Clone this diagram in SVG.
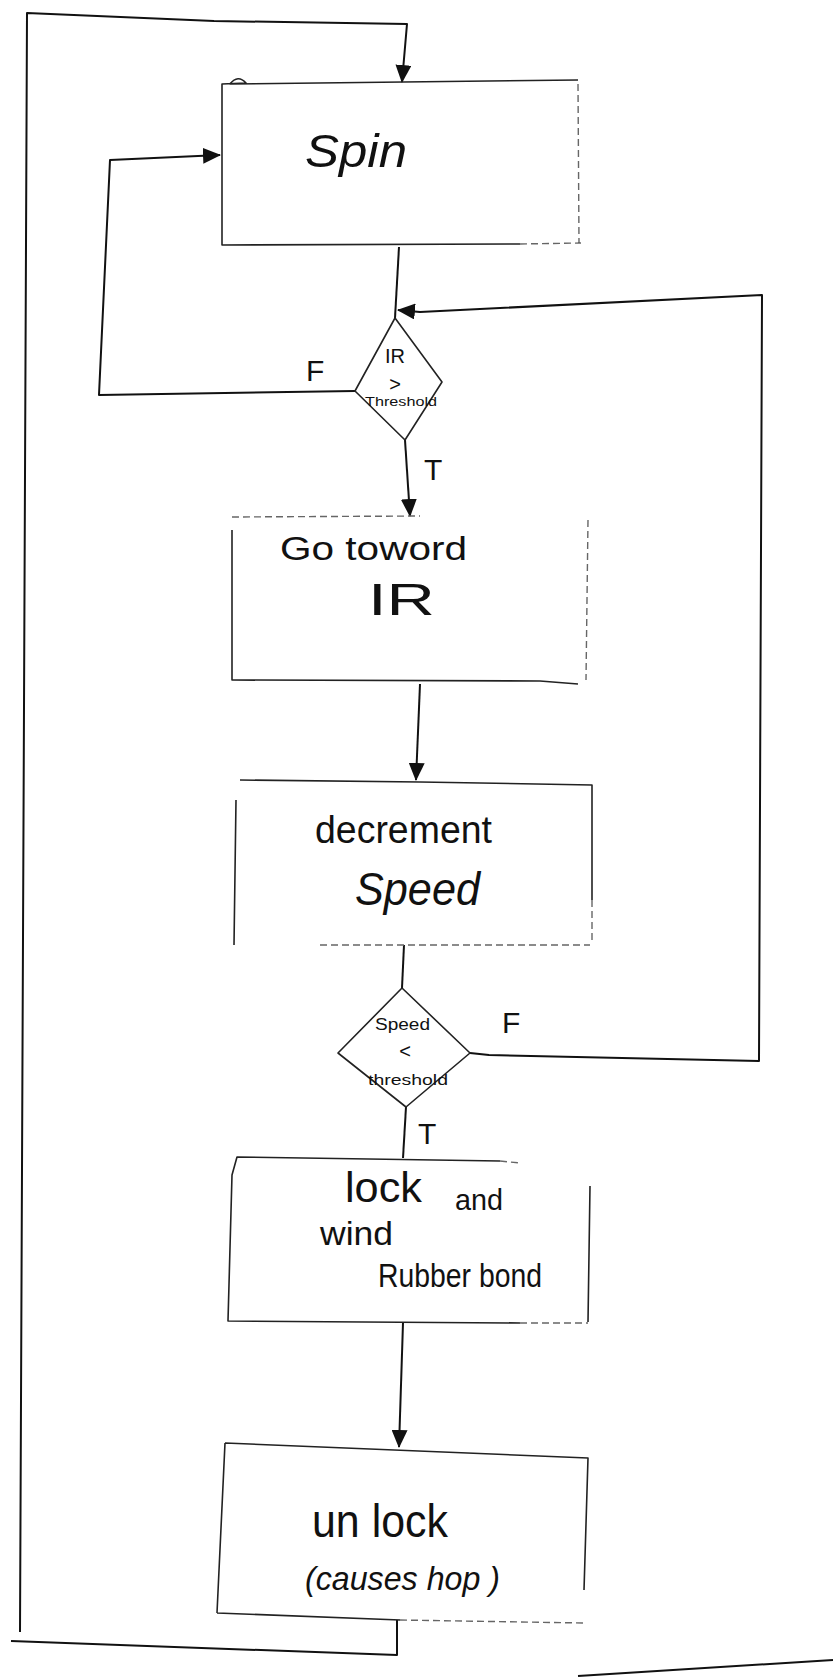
<svg xmlns="http://www.w3.org/2000/svg" width="833" height="1677" viewBox="0 0 833 1677">
<style>
.box{fill:none;stroke:#222;stroke-width:1.6;stroke-linejoin:round}
.faint{fill:none;stroke:#666;stroke-width:1.4;stroke-dasharray:7 4}
.edge{fill:none;stroke:#111;stroke-width:2;stroke-linejoin:round}
.t{font-family:"Liberation Sans",Arial,sans-serif;fill:#111}
.lbl{font-family:"Liberation Sans",Arial,sans-serif;fill:#111;font-size:30px}
</style>
<defs>
<marker id="ah" markerUnits="userSpaceOnUse" markerWidth="18" markerHeight="16" refX="17" refY="8" orient="auto">
<path d="M0,0 L18,8 L0,16 z" fill="#111"/>
</marker>
</defs>
<rect width="833" height="1677" fill="#fff"/>

<g id="connectors">
<path class="edge" d="M20,1632 L27,13 L214,21 L407,24 L402,82" marker-end="url(#ah)"/>
<path class="edge" d="M355,391 L99,395 L110,160 L220,155" marker-end="url(#ah)"/>
<path class="edge" d="M399,247 L395,318"/>
<path class="edge" d="M470,1053 L489,1055 L759,1061 L762,295 L420,312 L398,310" marker-end="url(#ah)"/>
<path class="edge" d="M405,440 L410,516" marker-end="url(#ah)"/>
<path class="edge" d="M420,684 L416,780" marker-end="url(#ah)"/>
<path class="edge" d="M404,945 L402,988"/>
<path class="edge" d="M406,1107 L403,1158"/>
<path class="edge" d="M403,1323 L399,1447" marker-end="url(#ah)"/>
<path class="edge" d="M397,1620 L397,1655 L11,1641"/>
<path class="edge" d="M578,1676 L833,1660" stroke-width="2.5"/>
<text class="lbl" x="306" y="381">F</text>
<text class="lbl" x="424" y="480">T</text>
<text class="lbl" x="502" y="1033">F</text>
<text class="lbl" x="418" y="1144">T</text>
</g>

<g id="spin">
<path class="box" d="M578,80 L230,84 Q238,74 246,83 L222,84 L222,245 L520,244"/>
<path class="faint" d="M520,244 L581,243 M578,84 L579,243"/>
<text class="t" x="305" y="167" font-size="46" textLength="102" lengthAdjust="spacingAndGlyphs" font-style="italic">Spin</text>
</g>

<g id="ir-threshold">
<path class="box" d="M395,318 L442,382 L405,440 L355,391 Z"/>
<text class="t" x="395" y="363" font-size="20" text-anchor="middle">IR</text>
<text class="t" x="395" y="391" font-size="20" text-anchor="middle">&gt;</text>
<text class="t" x="365" y="406" font-size="12" textLength="72" lengthAdjust="spacingAndGlyphs">Threshold</text>
</g>

<g id="go-toward">
<path class="box" d="M232,530 L232,680 L540,681 L578,684"/>
<path class="faint" d="M232,517 L420,516 M588,520 L586,680"/>
<text class="t" x="280" y="560" font-size="34" textLength="187" lengthAdjust="spacingAndGlyphs">Go toword</text>
<text class="t" x="368" y="615" font-size="44" textLength="67" lengthAdjust="spacingAndGlyphs">IR</text>
</g>

<g id="decrement">
<path class="box" d="M240,780 L420,782 L592,785 L592,900 M236,800 L234,945"/>
<path class="faint" d="M320,945 L590,945 M592,900 L592,940"/>
<text class="t" x="315" y="843" font-size="38" textLength="177" lengthAdjust="spacingAndGlyphs">decrement</text>
<text class="t" x="355" y="905" font-size="46" textLength="125" lengthAdjust="spacingAndGlyphs" font-style="italic">Speed</text>
</g>

<g id="speed-threshold">
<path class="box" d="M402,988 L470,1053 L406,1107 L338,1053 Z"/>
<text class="t" x="375" y="1030" font-size="16" textLength="55" lengthAdjust="spacingAndGlyphs">Speed</text>
<text class="t" x="405" y="1058" font-size="20" text-anchor="middle">&lt;</text>
<text class="t" x="368" y="1085" font-size="14" textLength="80" lengthAdjust="spacingAndGlyphs">threshold</text>
</g>

<g id="lock-wind">
<path class="box" d="M500,1161 L237,1157 L232,1175 L228,1321 L520,1323 M590,1186 L588,1322"/>
<path class="faint" d="M500,1161 L520,1163 M520,1323 L588,1323"/>
<text class="t" x="345" y="1202" font-size="42" textLength="77" lengthAdjust="spacingAndGlyphs">lock</text>
<text class="t" x="455" y="1210" font-size="30" textLength="48" lengthAdjust="spacingAndGlyphs">and</text>
<text class="t" x="320" y="1245" font-size="34" textLength="73" lengthAdjust="spacingAndGlyphs">wind</text>
<text class="t" x="378" y="1287" font-size="34" textLength="164" lengthAdjust="spacingAndGlyphs">Rubber bond</text>
</g>

<g id="unlock">
<path class="box" d="M225,1443 L588,1458 L584,1590 M217,1613 L225,1443 M217,1613 L400,1620"/>
<path class="faint" d="M400,1620 L583,1623"/>
<text class="t" x="312" y="1537" font-size="46" textLength="136" lengthAdjust="spacingAndGlyphs">un lock</text>
<text class="t" x="305" y="1590" font-size="34" textLength="195" lengthAdjust="spacingAndGlyphs" font-style="italic">(causes hop )</text>
</g>
</svg>
